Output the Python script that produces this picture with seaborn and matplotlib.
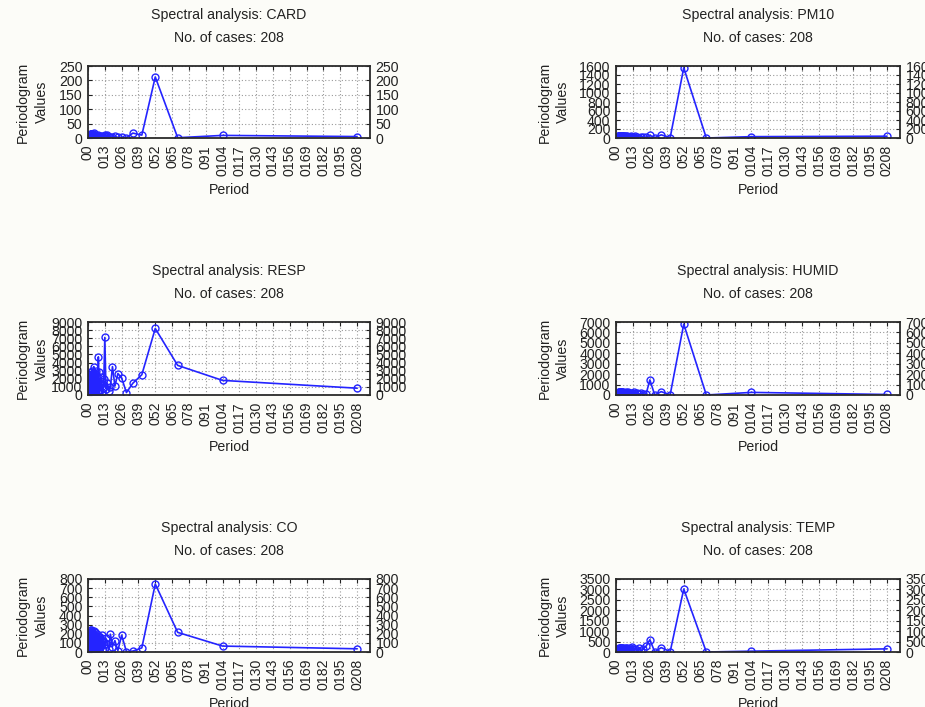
import matplotlib
matplotlib.use("Agg")
import matplotlib.pyplot as plt
import numpy as np
import seaborn as sns

# ---------------- data ----------------
# periods 208/k, k = 1..104
periods = [208, 104, 69.33, 52, 41.6, 34.67, 29.71, 26, 23.11, 20.8,
           18.91, 17.33, 16, 14.86, 13.87, 13, 12.24, 11.56, 10.95, 10.4,
           9.90, 9.45, 9.04, 8.67, 8.32, 8, 7.70, 7.43, 7.17, 6.93,
           6.71, 6.5, 6.30, 6.12, 5.94, 5.78, 5.62, 5.47, 5.33, 5.2,
           5.07, 4.95, 4.84, 4.73, 4.62, 4.52, 4.43, 4.33, 4.24, 4.16,
           4.08, 4, 3.92, 3.85, 3.78, 3.71, 3.65, 3.59, 3.53, 3.47,
           3.41, 3.35, 3.30, 3.25, 3.2, 3.15, 3.10, 3.06, 3.01, 2.97,
           2.93, 2.89, 2.85, 2.81, 2.77, 2.74, 2.70, 2.67, 2.63, 2.6,
           2.57, 2.54, 2.51, 2.48, 2.45, 2.42, 2.39, 2.36, 2.34, 2.31,
           2.29, 2.26, 2.24, 2.21, 2.19, 2.17, 2.14, 2.12, 2.10, 2.08,
           2.06, 2.04, 2.02, 2]

card = [5, 9, 1, 212, 10, 17, 1, 3, 2, 6,
        4, 2, 5, 10, 8, 10, 6, 3, 8, 5,
        2, 7, 4, 1, 6, 3, 9, 5, 2, 4,
        7, 3, 1, 5, 8, 2, 6, 4, 3, 9,
        5, 2, 7, 12, 6, 10, 17, 8, 4, 11,
        6, 3, 9, 14, 5, 2, 8, 12, 4, 7,
        10, 3, 6, 15, 9, 4, 11, 7, 2, 8,
        13, 5, 9, 3, 7, 12, 6, 10, 4, 8,
        14, 6, 3, 9, 11, 5, 8, 13, 7, 4,
        10, 6, 12, 3, 8, 15, 5, 9, 11, 7,
        4, 10, 6, 13]

pm10 = [40, 30, 0, 1560, 10, 70, 8, 60, 15, 20,
        30, 10, 25, 40, 15, 30, 20, 35, 10, 25,
        30, 15, 20, 45, 10, 25, 35, 20, 15, 30,
        25, 40, 10, 20, 35, 15, 30, 25, 45, 10,
        20, 35, 15, 30, 40, 10, 25, 35, 20, 45,
        15, 30, 10, 40, 25, 20, 35, 15, 30, 45,
        10, 25, 40, 20, 35, 15, 30, 10, 45, 25,
        20, 40, 15, 35, 30, 10, 25, 45, 20, 35,
        15, 30, 40, 10, 25, 35, 20, 45, 15, 30,
        10, 40, 25, 20, 35, 15, 45, 30, 10, 25,
        40, 20, 35, 15]

resp = [840, 1800, 3650, 8200, 2500, 1450, 300, 2100, 2650, 1100,
        3500, 1000, 500, 1500, 800, 7100, 2000, 900, 400, 1300,
        2200, 600, 1700, 300, 2800, 4700, 1200, 500, 2400, 900,
        1500, 200, 3000, 700, 1100, 2600, 400, 1800, 900, 2300,
        600, 1400, 300, 2000, 800, 1600, 3500, 500, 1200, 2700,
        400, 1900, 700, 1000, 2500, 300, 1500, 800, 2100, 600,
        1300, 2900, 200, 900, 1700, 500, 2300, 1100, 400, 1800,
        700, 2600, 1000, 300, 1400, 2000, 600, 1200, 2800, 400,
        900, 1600, 500, 2200, 800, 1300, 300, 1900, 700, 1100,
        2400, 500, 1000, 1500, 300, 2100, 800, 600, 1700, 400,
        1200, 900, 1500, 600]

humid = [50, 250, 0, 6800, 30, 320, 10, 1450, 100, 60,
         150, 80, 200, 120, 250, 90, 180, 60, 220, 140,
         100, 260, 70, 190, 130, 240, 50, 170, 110, 210,
         80, 150, 230, 60, 190, 120, 270, 90, 160, 40,
         200, 110, 250, 70, 180, 140, 300, 60, 130, 220,
         90, 170, 240, 50, 150, 210, 100, 280, 70, 190,
         120, 230, 80, 160, 260, 40, 200, 110, 180, 140,
         250, 70, 130, 210, 90, 170, 60, 240, 120, 190,
         80, 150, 270, 100, 200, 50, 160, 230, 110, 140,
         190, 70, 250, 120, 180, 90, 210, 60, 170, 130,
         220, 100, 150, 80]

co = [35, 65, 215, 745, 45, 10, 5, 185, 15, 125,
      60, 195, 30, 90, 150, 40, 110, 20, 190, 70,
      130, 50, 160, 25, 100, 175, 35, 80, 140, 55,
      200, 30, 120, 85, 165, 45, 95, 220, 60, 110,
      20, 150, 75, 185, 40, 130, 225, 65, 105, 170,
      30, 140, 90, 195, 55, 120, 15, 180, 80, 160,
      45, 210, 100, 35, 150, 70, 190, 25, 125, 85,
      175, 50, 135, 95, 230, 40, 110, 160, 65, 200,
      30, 145, 80, 185, 55, 120, 240, 70, 100, 165,
      40, 195, 90, 130, 60, 215, 25, 150, 85, 175,
      110, 45, 200, 240]

temp = [150, 40, 0, 3020, 20, 210, 10, 590, 280, 140,
        60, 200, 90, 160, 40, 120, 230, 70, 180, 100,
        50, 150, 90, 210, 30, 130, 80, 170, 60, 110,
        140, 40, 190, 70, 120, 30, 160, 90, 60, 130,
        80, 170, 40, 110, 150, 60, 90, 200, 50, 120,
        100, 30, 140, 70, 180, 40, 110, 90, 160, 60,
        130, 50, 80, 190, 40, 120, 70, 150, 100, 30,
        160, 90, 60, 140, 110, 40, 170, 80, 120, 50,
        100, 150, 30, 130, 70, 190, 60, 90, 140, 40,
        110, 80, 160, 50, 120, 30, 140, 90, 70, 100,
        60, 130, 40, 110]

variables = ["CARD", "PM10", "RESP", "HUMID", "CO", "TEMP"]
series = [card, pm10, resp, humid, co, temp]
y_max = [250, 1600, 9000, 7000, 800, 3500]
y_step = [50, 200, 1000, 1000, 100, 500]
n_cases = 208

x_ticks = [0, 13, 26, 39, 52, 65, 78, 91, 104, 117, 130, 143, 156, 169, 182, 195, 208]
x_tick_labels = ["00", "013", "026", "039", "052", "065", "078", "091", "0104",
                 "0117", "0130", "0143", "0156", "0169", "0182", "0195", "0208"]

for s in series:
    assert len(s) == len(periods), len(s)

# ---------------- style ----------------
sns.set_style("white")
plt.rcParams["font.family"] = ["Liberation Sans", "DejaVu Sans"]
TXT = "#222222"
BLUE = "#2424ff"
FS = 10.2

W, H = 925, 707
fig = plt.figure(figsize=(W / 100, H / 100), dpi=100, facecolor="#fcfcf8")

col_x0 = [88, 616]
col_x1 = [370, 900]
row_top = [66, 322, 579]
row_bot = [138, 395, 652]

for i, (name, vals) in enumerate(zip(variables, series)):
    r, c = divmod(i, 2)
    x0, x1 = col_x0[c], col_x1[c]
    top, bot = row_top[r], row_bot[r]
    ax = fig.add_axes([x0 / W, 1 - bot / H, (x1 - x0) / W, (bot - top) / H])
    ax.set_facecolor("white")

    sns.lineplot(x=periods, y=vals, ax=ax, color=BLUE, lw=1.2,
                 marker="o", markersize=5, markerfacecolor="none",
                 markeredgecolor=BLUE, markeredgewidth=1.0,
                 estimator=None, sort=True)

    ax.set_xlim(0, 218)
    ax.set_ylim(0, y_max[i])
    ax.set_xticks(x_ticks)
    ax.set_xticklabels(x_tick_labels)
    yt = np.arange(0, y_max[i] + 1, y_step[i])
    ax.set_yticks(yt)
    ax.set_yticklabels([str(int(v)) for v in yt])
    ax.set_xlabel("")
    ax.set_ylabel("")

    ax.tick_params(axis="y", direction="in", left=True, right=True,
                   labelleft=True, labelright=True, length=3, width=0.8,
                   pad=4, labelsize=FS, labelcolor=TXT, colors=TXT)
    ax.tick_params(axis="x", direction="in", top=True, bottom=False,
                   labelbottom=True, length=3, width=0.8, pad=5,
                   labelsize=FS, labelrotation=90, labelcolor=TXT, colors=TXT)
    ax.set_axisbelow(True)
    ax.grid(True, linestyle=(0, (1, 2)), color="#9a9a9a", lw=0.8)
    for sp in ax.spines.values():
        sp.set_visible(True)
        sp.set_color("#2a2a2a")
        sp.set_linewidth(1.3)

    xc = (x0 + x1) / 2
    fig.text(xc / W, 1 - (top - 51) / H, f"Spectral analysis: {name}",
             ha="center", va="center", fontsize=FS, color=TXT)
    fig.text(xc / W, 1 - (top - 28) / H, f"No. of cases: {n_cases}",
             ha="center", va="center", fontsize=FS, color=TXT)
    fig.text(xc / W, 1 - (bot + 52) / H, "Period",
             ha="center", va="center", fontsize=FS, color=TXT)
    yc = (top + bot) / 2
    off1, off2 = (65, 46) if c == 0 else (71, 53)
    fig.text((x0 - off1) / W, 1 - yc / H, "Periodogram", rotation=90,
             ha="center", va="center", fontsize=FS, color=TXT)
    fig.text((x0 - off2) / W, 1 - yc / H, "Values", rotation=90,
             ha="center", va="center", fontsize=FS, color=TXT)

fig.savefig("out.png", dpi=100, facecolor=fig.get_facecolor())
